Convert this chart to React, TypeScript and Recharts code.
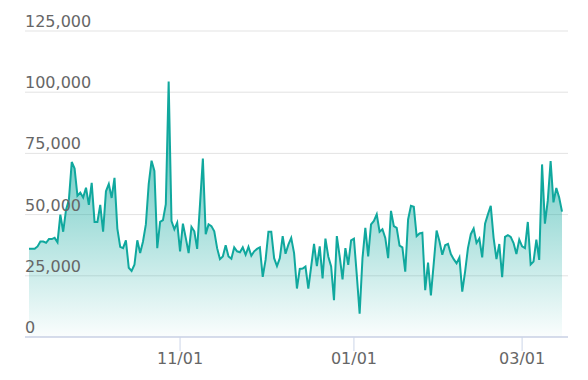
import React from 'react';
import { AreaChart, Area, XAxis, YAxis, CartesianGrid } from 'recharts';

// daily values, one array per month (first point is 09/09)
const sep = [36000, 36000, 36000, 37000, 39000, 39000, 38500, 40000, 40000, 40500, 38700, 50000, 43000, 52000, 56000, 71500, 68800, 57700, 59000, 57000, 61000, 54000];
const oct = [63000, 47000, 47000, 54000, 43000, 59500, 62500, 56800, 65000, 44300, 36800, 36300, 39500, 28300, 27000, 29500, 39500, 34300, 39000, 46000, 62500, 72000, 67800, 36300, 47000, 47700, 54300, 104400, 47400, 44000, 46700];
const nov = [35000, 46300, 40500, 34300, 45000, 43200, 36000, 54300, 72900, 42000, 46000, 45300, 43200, 36300, 31800, 32900, 37500, 32900, 32000, 36600, 35000, 34600, 36600, 33600, 36800, 33200, 35000, 36000, 36600, 24600];
const dec = [31500, 43000, 43000, 32200, 29000, 32200, 41200, 34000, 37700, 40500, 34300, 19800, 27800, 28000, 28800, 19800, 28800, 38000, 29000, 37000, 23900, 40200, 32900, 28800, 15000, 41200, 32900, 23500, 36300, 29500, 39500];
const jan = [40200, 25300, 9500, 32200, 44600, 32900, 46000, 47400, 50100, 43000, 44000, 40500, 32200, 51500, 45300, 44600, 37300, 36600, 26700, 48000, 53600, 53200, 41200, 42300, 42600, 19100, 30400, 17000, 30100, 43500, 39100];
const feb = [33600, 37500, 38000, 33900, 31800, 30100, 32500, 18500, 26700, 36300, 42000, 44300, 38400, 40200, 32500, 46300, 50100, 53600, 40500, 31800, 38000, 24400, 40900, 41600, 40900, 38400, 33900, 39800];
const mar = [37000, 36300, 47000, 29600, 30800, 39800, 31500, 70500, 46300, 55700, 71900, 55000, 60900, 57000, 51200];

const months = [sep, oct, nov, dec, jan, feb, mar];
const tickLabels = ['11/01', '01/01', '03/01'];
const tickMonths = [2, 4, 6];
const yTicks = [0, 25000, 50000, 75000, 100000, 125000];

const data = months.flat().map((v, i) => ({ i, v }));
const tickIdx = tickMonths.map(m => months.slice(0, m).reduce((s, a) => s + a.length, 0));

const PLOT_LEFT = 25;
const FONT = '"DejaVu Sans", sans-serif';

// y labels sit left-aligned on top of their gridline, inside the plot
const YTick = ({ y, payload }: any) => (
  <text x={PLOT_LEFT} y={y - 4} fill="#666" fontSize={16} fontFamily={FONT} textAnchor="start">
    {Number(payload.value).toLocaleString('en-US')}
  </text>
);

export default function App() {
  return (
    <div style={{ position: 'absolute', left: 0, top: 0, width: 588, height: 380, background: '#fff' }}>
      <AreaChart width={588} height={380} data={data} margin={{ top: 31, right: 20, bottom: 0, left: 0 }}>
        <defs>
          <linearGradient id="fillTeal" x1="0" y1="0" x2="0" y2="1">
            <stop offset="0%" stopColor="#10a89e" stopOpacity={0.8} />
            <stop offset="100%" stopColor="#10a89e" stopOpacity={0.02} />
          </linearGradient>
        </defs>
        <CartesianGrid vertical={false} stroke="#e3e3e3" />
        <XAxis
          type="number"
          dataKey="i"
          domain={[-1.4, 189.1]}
          ticks={tickIdx}
          tickFormatter={(v: number) => tickLabels[tickIdx.indexOf(v)] ?? ''}
          height={43}
          tickSize={14}
          tickMargin={2}
          axisLine={{ stroke: '#ccd5e8', strokeWidth: 1.5 }}
          tickLine={{ stroke: '#ccd5e8' }}
          tick={{ fill: '#666', fontSize: 16, fontFamily: FONT }}
        />
        <YAxis
          width={PLOT_LEFT}
          domain={[0, 125000]}
          ticks={yTicks}
          axisLine={false}
          tickLine={false}
          tick={<YTick />}
        />
        <Area
          type="linear"
          dataKey="v"
          stroke="#10a89e"
          strokeWidth={2}
          fill="url(#fillTeal)"
          fillOpacity={1}
          dot={false}
          activeDot={false}
          isAnimationActive={false}
        />
      </AreaChart>
    </div>
  );
}
